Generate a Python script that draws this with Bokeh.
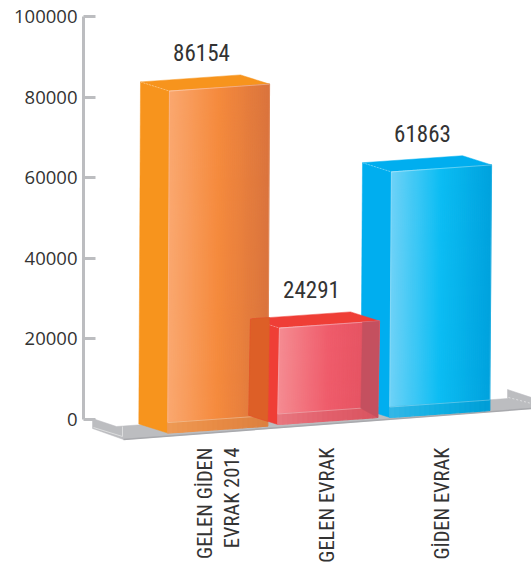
import math
from bokeh.plotting import figure
from bokeh.models import Range1d, FixedTicker, ColumnDataSource, NumeralTickFormatter
from bokeh.core.properties import value as pv
from bokeh.embed import file_html
from bokeh.resources import INLINE

categories = ["GELEN GİDEN\nEVRAK 2014", "GELEN EVRAK", "GİDEN EVRAK"]
values = [86154, 24291, 61863]
y_ticks = [0, 20000, 40000, 60000, 80000, 100000]
category_x = [218, 326, 441]

# layout of the 3D bars, in pixels of the x scale and in value units on y
PX = 100000 / 403
H = 0.985
front_x = [169, 279, 391]
base_px = [13.6, 5.0, -2.0]
WIDTH, DEPTH, RISE, SLOPE, SHEAR, INNER = 100, 29, 9.2, 7.0, 1.7, 10.5
side_col = ["#F7941D", "#EF3E36", "#00AEEF"]
front_stops = [["#FAA870", "#F58A3D", "#DA743D"],
               ["#F58C92", "#EF5C6B", "#E2505F"],
               ["#6FD2F7", "#0CBDF3", "#00A2DE"]]
bottom_stops = [["#EE9A55", "#E88B44", "#DC8040"],
                ["#E87880", "#E2606C", "#D95460"],
                ["#34B7E6", "#0FAFE3", "#009DD6"]]
FRAME_LEFT, FRAME_BOTTOM = 83, 441

p = figure(frame_width=531 - FRAME_LEFT, frame_height=FRAME_BOTTOM,
           output_backend="svg", toolbar_location=None,
           x_range=Range1d(FRAME_LEFT, 531), y_range=Range1d(-(FRAME_BOTTOM - 419) * PX, 419 * PX),
           min_border_left=FRAME_LEFT, min_border_right=0, min_border_top=0,
           min_border_bottom=563 - FRAME_BOTTOM,
           outline_line_color=None, background_fill_color="white",
           styles={"position": "absolute", "left": "0px", "top": "0px"})
p.grid.visible = False


def yv(px):
    return (419 - px) * PX


def hexrgb(c):
    return [int(c[i:i + 2], 16) for i in (1, 3, 5)]


def grad(stops, t):
    a, b = (stops[0], stops[1]) if t < 0.5 else (stops[1], stops[2])
    u = t * 2 if t < 0.5 else t * 2 - 1
    ca, cb = hexrgb(a), hexrgb(b)
    return "#%02x%02x%02x" % tuple(round(x + (y - x) * u) for x, y in zip(ca, cb))


def lerp(a, b, t):
    return (a[0] + (b[0] - a[0]) * t, a[1] + (b[1] - a[1]) * t)


def corners(i):
    b = -base_px[i] * PX
    top = b + values[i] * H
    x = front_x[i]
    d = {}
    d["ftl"] = (x, top)
    d["ftr"] = (x + WIDTH, top + SLOPE * PX)
    d["fbl"] = (x - SHEAR, b)
    d["fbr"] = (x + WIDTH - SHEAR, b + SLOPE * PX)
    d["btl"] = (x - DEPTH, top + RISE * PX)
    d["btr"] = (x + WIDTH - DEPTH, top + (RISE + SLOPE) * PX)
    d["bbl"] = (x - DEPTH - SHEAR, b + RISE * PX)
    d["ibl"] = (x - SHEAR, b + INNER * PX)
    d["ibr"] = (x + WIDTH - SHEAR, b + (INNER + SLOPE) * PX)
    return d


def poly(pts, color, **kw):
    p.patch([q[0] for q in pts], [q[1] for q in pts], fill_color=color,
            line_color=kw.pop("line_color", color), line_width=kw.pop("line_width", 0.5), **kw)


def strips(tl, tr, br, bl, stops, n=50):
    xs, ys, cols = [], [], []
    for k in range(n):
        t0, t1 = k / n, (k + 1) / n
        a, b = lerp(tl, tr, t0), lerp(tl, tr, t1)
        c, d = lerp(bl, br, t1), lerp(bl, br, t0)
        xs.append([a[0], b[0], c[0], d[0]])
        ys.append([a[1], b[1], c[1], d[1]])
        cols.append(grad(stops, (t0 + t1) / 2))
    p.patches(xs, ys, fill_color=cols, line_color=cols, line_width=1.2)


def edge(a, b, dash="solid", alpha=0.45):
    p.line([a[0], b[0]], [a[1], b[1]], line_color="white", line_alpha=alpha, line_width=1, line_dash=dash)


# floor
floor = [(92, 418), (116, 426), (507, 398), (507, 389), (531, 397), (531, 408), (123, 439), (92, 428)]
poly([(x, yv(y)) for x, y in floor], "#BCBDC0")
p.line([93, 122, 122], [yv(427), yv(436), yv(426)], line_color="#DCDDDE", line_width=1)
p.line([123, 531], [yv(439), yv(408)], line_color="#A8A9AD", line_width=1.5)
p.line([508, 531], [yv(397), yv(403)], line_color="#DCDDDE", line_width=1, line_dash="2 2")

geo = [corners(i) for i in range(3)]
for i in (2, 0, 1):
    c = geo[i]
    poly([c["btl"], c["ftl"], c["fbl"], c["bbl"]], side_col[i])
    poly([c["btl"], c["btr"], c["ftr"], c["ftl"]], side_col[i])
    strips(c["ftl"], c["ftr"], c["ibr"], c["ibl"], front_stops[i])
    strips(c["ibl"], c["ibr"], c["fbr"], c["fbl"], bottom_stops[i], n=20)
    edge(c["ftl"], c["ftr"], alpha=0.35)
    edge(c["btl"], c["ftl"], dash="2 1", alpha=0.35)
    edge(c["ftl"], c["ibl"], alpha=0.15)
    edge(c["ftr"], c["ibr"], alpha=0.15)
    edge(c["ibl"], c["ibr"], alpha=0.3)

# orange front seen over the red bar's side
o, r, b = geo
t = (o["ftr"][0] - r["btl"][0]) / (r["btr"][0] - r["btl"][0])
t2 = (o["ftr"][0] - r["btl"][0]) / (r["ftl"][0] - r["btl"][0])
poly([r["btl"], lerp(r["btl"], r["btr"], t), lerp(r["bbl"], r["fbl"], t2), r["bbl"]], "#DD5F27")

# red front seen over the blue bar's side
t = (b["btl"][0] - r["ftl"][0]) / (r["ftr"][0] - r["ftl"][0])
poly([lerp(r["ftl"], r["ftr"], t), r["ftr"], r["fbr"], b["bbl"]], "#C4505F")

# value labels
src = ColumnDataSource(dict(x=[201, 311, 422],
                            y=[v * H - bp * PX + 14 * PX + RISE * PX + SLOPE * PX
                               for v, bp in zip(values, base_px)],
                            t=[str(v) for v in values]))
p.text("x", "y", text="t", source=src, text_font=pv("Roboto Condensed"), text_font_size="23px",
       text_color="#333333", text_align="center", text_baseline="bottom")

# y axis
ya = p.yaxis[0]
ya.ticker = FixedTicker(ticks=y_ticks)
ya.bounds = (0, 100000)
ya.formatter = NumeralTickFormatter(format="0")
ya.axis_line_color = "#BCBDC0"
ya.axis_line_width = 3
ya.major_tick_line_color = "#BCBDC0"
ya.major_tick_line_width = 3
ya.major_tick_in = 12
ya.major_tick_out = 0
ya.minor_tick_line_color = None
ya.major_label_standoff = 6
ya.major_label_text_font = "Open Sans"
ya.major_label_text_font_size = "18.5px"
ya.major_label_text_color = "#333333"

# x axis labels
xa = p.xaxis[0]
xa.ticker = FixedTicker(ticks=category_x)
xa.major_label_overrides = dict(zip(category_x, categories))
xa.major_label_orientation = math.pi / 2
xa.axis_line_color = None
xa.major_tick_line_color = None
xa.minor_tick_line_color = None
xa.major_tick_in = 0
xa.major_tick_out = 0
xa.major_label_standoff = 6
xa.major_label_text_font = "Roboto Condensed"
xa.major_label_text_font_size = "20.5px"
xa.major_label_text_line_height = 1.15
xa.major_label_text_color = "#333333"

open("out.html", "w").write(file_html(p, INLINE))
